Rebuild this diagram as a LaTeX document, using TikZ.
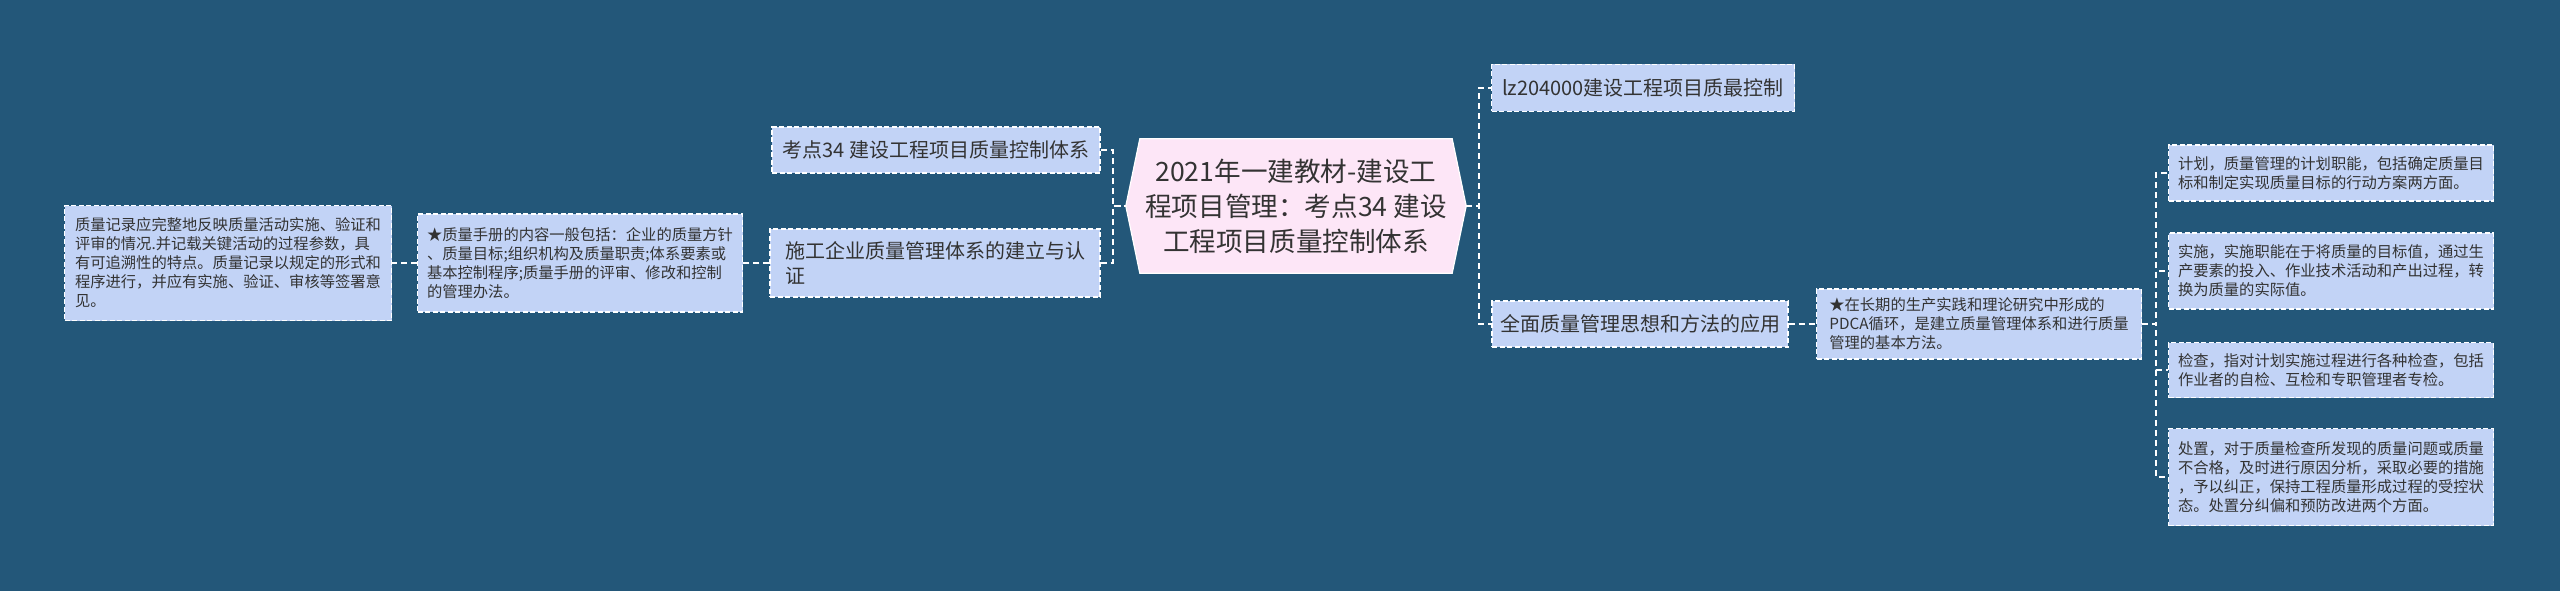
\documentclass[tikz,border=0pt]{standalone}
\usepackage{fontspec}
\setmainfont{Noto Sans CJK SC}
\usetikzlibrary{backgrounds,calc}
\definecolor{bg}{HTML}{235779}
\definecolor{boxfill}{HTML}{C2D3F6}
\definecolor{rootfill}{HTML}{FDE6F7}
\definecolor{txt}{HTML}{333333}
\tikzset{
  box/.style={draw=white, dash pattern=on 5pt off 2.5pt, line width=1.3pt, fill=boxfill, text=txt, inner sep=0pt, align=left},
  bigbox/.style={box, font=\fontsize{20}{25}\selectfont},
  smallbox/.style={box, font=\fontsize{15.3}{19}\selectfont},
  link/.style={draw=white, dash pattern=on 6pt off 4pt, line width=1.8pt},
  rootnode/.style={text=txt, align=center, inner sep=0pt, font=\fontsize{26.6}{35}\selectfont}
}
\begin{document}
\begin{tikzpicture}[x=1pt,y=-1pt]
\useasboundingbox (0,0) rectangle (2560,591);
\begin{scope}[on background layer]
\fill[bg] (0,0) rectangle (2560,591);
\end{scope}

\node[rootnode, minimum width=312, minimum height=134] (root) at (1296,206)
  {2021年一建教材-建设工\\程项目管理：考点34 建设\\工程项目质量控制体系};
\begin{scope}[on background layer]
\filldraw[fill=rootfill, draw=white, line width=1.2pt]
  (root.north west) -- (root.north east) -- ([xshift=14pt]root.east) -- (root.south east)
  -- (root.south west) -- ([xshift=-14pt]root.west) -- cycle;
\end{scope}

% left side
\node[bigbox, minimum width=328, minimum height=46] (L1a) at (936,150) {考点34 建设工程项目质量控制体系};
\node[bigbox, minimum width=330, minimum height=68] (L1b) at (935,263) {施工企业质量管理体系的建立与认\\证};
\node[smallbox, minimum width=325, minimum height=98] (L2) at (580,263)
  {★质量手册的内容一般包括：企业的质量方针\\、质量目标;组织机构及质量职责;体系要素或\\基本控制程序;质量手册的评审、修改和控制\\的管理办法。};
\node[smallbox, minimum width=327, minimum height=115] (L3) at (228,263)
  {质量记录应完整地反映质量活动实施、验证和\\评审的情况.并记载关键活动的过程参数，具\\有可追溯性的特点。质量记录以规定的形式和\\程序进行，并应有实施、验证、审核等签署意\\见。};

% right side
\node[bigbox, minimum width=303, minimum height=47] (R1a) at (1643,88) {lz204000建设工程项目质最控制};
\node[bigbox, minimum width=296, minimum height=46] (R1b) at (1640,324) {全面质量管理思想和方法的应用};
\node[smallbox, minimum width=325, minimum height=70] (R2) at (1979,324)
  {★在长期的生产实践和理论研究中形成的\\PDCA循环，是建立质量管理体系和进行质量\\管理的基本方法。};
\node[smallbox, minimum width=325, minimum height=56] (R3a) at (2331,173)
  {计划，质量管理的计划职能，包括确定质量目\\标和制定实现质量目标的行动方案两方面。};
\node[smallbox, minimum width=325, minimum height=76] (R3b) at (2331,271)
  {实施，实施职能在于将质量的目标值，通过生\\产要素的投入、作业技术活动和产出过程，转\\换为质量的实际值。};
\node[smallbox, minimum width=325, minimum height=55] (R3c) at (2331,370)
  {检查，指对计划实施过程进行各种检查，包括\\作业者的自检、互检和专职管理者专检。};
\node[smallbox, minimum width=325, minimum height=97] (R3d) at (2331,477)
  {处置，对于质量检查所发现的质量问题或质量\\不合格，及时进行原因分析，采取必要的措施\\，予以纠正，保持工程质量形成过程的受控状\\态。处置分纠偏和预防改进两个方面。};

% connectors
\draw[link] (L1a.east) -- ++(12,0) |- ([xshift=-14pt]root.west);
\draw[link] (L1b.east) -- ++(12,0) |- ([xshift=-14pt]root.west);
\draw[link] (L1b.west) -- (L2.east);
\draw[link] (L2.west) -- (L3.east);
\draw[link] ([xshift=14pt]root.east) -- ++(13,0) |- (R1a.west);
\draw[link] ([xshift=14pt]root.east) -- ++(13,0) |- (R1b.west);
\draw[link] (R1b.east) -- (R2.west);
\draw[link] (R2.east) -- ++(14,0) |- (R3a.west);
\draw[link] (R2.east) -- ++(14,0) |- (R3b.west);
\draw[link] (R2.east) -- ++(14,0) |- (R3c.west);
\draw[link] (R2.east) -- ++(14,0) |- (R3d.west);
\end{tikzpicture}
\end{document}
